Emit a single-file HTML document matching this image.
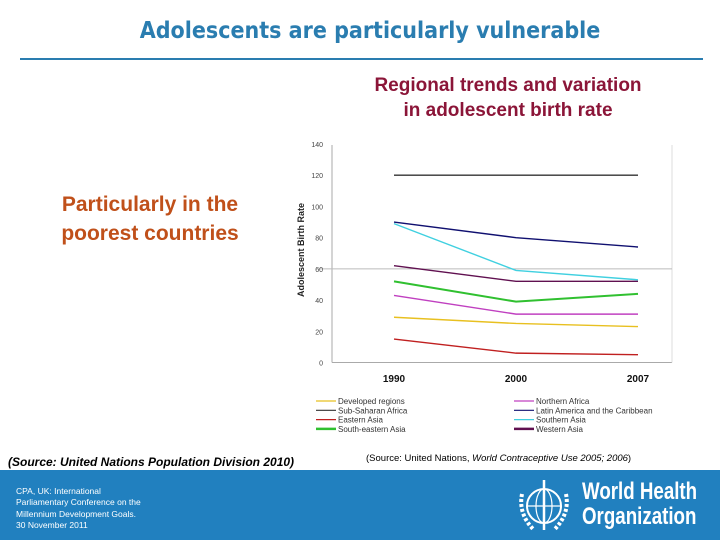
<!DOCTYPE html>
<html><head><meta charset="utf-8"><style>
body{margin:0;width:720px;height:540px;overflow:hidden;background:#fff;font-family:"Liberation Sans",sans-serif;position:relative}
.abs{position:absolute}
</style></head><body>
<div class="abs" style="left:0;width:740px;top:18px;text-align:center;font-size:23px;font-weight:bold;color:#2a7db0;font-family:'DejaVu Sans Condensed','Liberation Sans',sans-serif">Adolescents are particularly vulnerable</div>
<div class="abs" style="left:20px;top:58px;width:683px;height:2px;background:#2a7db0"></div>
<div class="abs" style="left:330px;width:356px;top:73px;text-align:center;font-size:19px;line-height:25px;font-weight:bold;color:#8b1538;white-space:nowrap">Regional trends and variation<br>in adolescent birth rate</div>
<div class="abs" style="left:20px;width:260px;top:190px;text-align:center;font-size:21px;line-height:29px;font-weight:bold;color:#c0501a">Particularly in the<br>poorest countries</div>
<div class="abs" style="left:8px;top:455px;font-size:12px;font-weight:bold;font-style:italic;color:#000">(Source: United Nations Population Division 2010)</div>
<div class="abs" style="left:366px;top:453px;font-size:9.5px;color:#000">(Source: United Nations, <i>World Contraceptive Use 2005; 2006</i>)</div>
<svg class="abs" style="left:0;top:0" width="720" height="470" id="chart"></svg>
<div class="abs" style="left:0;top:470px;width:720px;height:70px;background:#2180bf"></div>
<div class="abs" style="left:16px;top:486px;font-size:8.5px;line-height:11.3px;color:#fff">CPA, UK: International<br>Parliamentary Conference on the<br>Millennium Development Goals.<br>30 November 2011</div>
<svg class="abs" style="left:512px;top:474px" width="66" height="64">
<circle cx="32" cy="32" r="17" fill="none" stroke="#fff" stroke-width="2"/>
<ellipse cx="32" cy="32" rx="8" ry="17" fill="none" stroke="#fff" stroke-width="1.2"/>
<line x1="15" y1="32" x2="49" y2="32" stroke="#fff" stroke-width="1.2"/>
<path d="M10 20 Q6 40 22 56 M54 20 Q58 40 42 56" fill="none" stroke="#fff" stroke-width="4" stroke-dasharray="3 2"/>
<line x1="32" y1="6" x2="32" y2="56" stroke="#fff" stroke-width="2.5"/>
</svg>
<div class="abs" style="left:582px;top:479px;font-size:24px;line-height:25px;font-weight:bold;color:#fff;white-space:nowrap;transform:scaleX(0.78);transform-origin:left top">World Health<br>Organization</div>
<script>
const years=["1990","2000","2007"];
const yTicks=[0,20,40,60,80,100,120,140];
const seriesNames=["Developed regions","Sub-Saharan Africa","Eastern Asia","South-eastern Asia","Northern Africa","Latin America and the Caribbean","Southern Asia","Western Asia"];
const seriesColors=["#e8c020","#333333","#c02020","#30c030","#c040c0","#101070","#40d0e0","#601050"];
const developed=[29,25,23];
const subSaharan=[120,120,120];
const easternAsia=[15,6,5];
const southEastAsia=[52,39,44];
const northernAfrica=[43,31,31];
const latinAmerica=[90,80,74];
const southernAsia=[89,59,53];
const westernAsia=[62,52,52];
const seriesValues=[developed,subSaharan,easternAsia,southEastAsia,northernAfrica,latinAmerica,southernAsia,westernAsia];
const svg=document.getElementById('chart');
const NS='http://www.w3.org/2000/svg';
function mk(t,a){const e=document.createElementNS(NS,t);for(const k in a)e.setAttribute(k,a[k]);svg.appendChild(e);return e;}
const yv=v=>362.5-v*(218.5/140);
const xi=i=>394+i*122;
mk('line',{x1:332,y1:145,x2:332,y2:362.5,stroke:'#aaa','stroke-width':1});
mk('line',{x1:332,y1:362.5,x2:672,y2:362.5,stroke:'#aaa','stroke-width':1});
mk('line',{x1:672,y1:145,x2:672,y2:362.5,stroke:'#ddd','stroke-width':1});
const g=mk('line',{x1:318,y1:yv(60),x2:672,y2:yv(60),stroke:'#bbb','stroke-width':1});


yTicks.forEach(t=>{const e=mk('text',{x:323,y:yv(t)+3,'text-anchor':'end','font-size':7,fill:'#444','font-family':'Liberation Sans'});e.textContent=t;

});
years.forEach((y,i)=>{const e=mk('text',{x:xi(i),y:382,'text-anchor':'middle','font-size':10,'font-weight':'bold',fill:'#111','font-family':'Liberation Sans'});e.textContent=y;

});
const yt=mk('text',{x:0,y:0,transform:'translate(304,250) rotate(-90)','text-anchor':'middle','font-size':9,'font-weight':'bold',fill:'#222','font-family':'Liberation Sans'});yt.textContent='Adolescent Birth Rate';


seriesValues.forEach((vals,s)=>{const p=mk('polyline',{points:vals.map((v,i)=>xi(i)+','+yv(v)).join(' '),fill:'none',stroke:seriesColors[s],'stroke-width':s==3?2:1.4});

});
seriesNames.forEach((n,s)=>{const col=s<4?0:1;const r=s%4;const x=col?514:316;const y=401+r*9.3;
const l=mk('line',{x1:x,y1:y,x2:x+20,y2:y,stroke:seriesColors[s],'stroke-width':s==3||s==7?2.5:1.2});


const t=mk('text',{x:x+22,y:y+3,'font-size':8,fill:'#333','font-family':'Liberation Sans'});t.textContent=n;

});
</script>
</body></html>
